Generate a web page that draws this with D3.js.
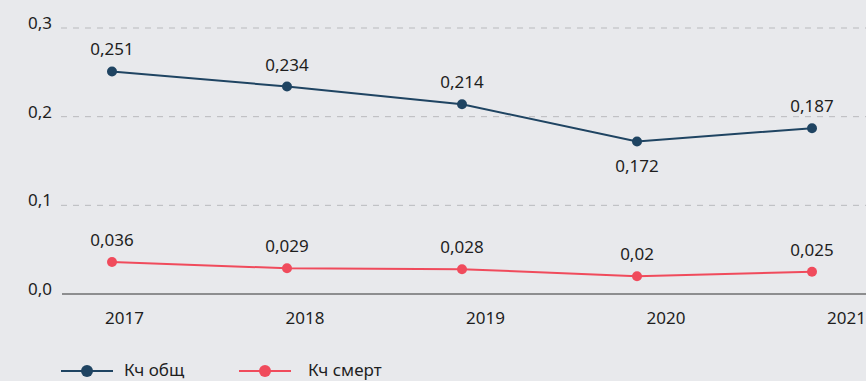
<!DOCTYPE html>
<html>
<head>
<meta charset="utf-8">
<script src="https://cdn.jsdelivr.net/npm/d3@7"></script>
<style>
  html, body { margin: 0; padding: 0; background: #e8e9ec; }
  svg { display: block; font-family: "Noto Sans", "Open Sans", sans-serif; }
</style>
</head>
<body>
<svg id="chart" width="866" height="381"></svg>
<script>
const years = ["2017", "2018", "2019", "2020", "2021"];
const kchTotal = [0.251, 0.234, 0.214, 0.172, 0.187];
const kchDeath = [0.036, 0.029, 0.028, 0.02, 0.025];
const yTicks = [0, 0.1, 0.2, 0.3];
const seriesNames = ["Кч общ", "Кч смерт"];
const seriesColors = ["#1f4462", "#f04b5c"];
// label placement: true = below the point
const totalLabelBelow = [false, false, false, true, false];

const svg = d3.select("#chart");
const fmt = v => String(v).replace(".", ",");
const fmtTick = v => v.toFixed(1).replace(".", ",");
const textColor = "#1e1e1e";

const x = d3.scalePoint().domain(years).range([112, 812]);
const xAxisScale = d3.scalePoint().domain(years).range([124, 846]);
const y = d3.scaleLinear().domain([0, 0.3]).range([294, 28]);

// gridlines
svg.append("g").selectAll("line").data(yTicks.filter(t => t > 0)).join("line")
  .attr("x1", 61).attr("x2", 866)
  .attr("y1", d => y(d)).attr("y2", d => y(d))
  .attr("stroke", "#b9babd").attr("stroke-width", 1)
  .attr("stroke-dasharray", "6,6");

// baseline
svg.append("line").attr("x1", 62).attr("x2", 866)
  .attr("y1", y(0)).attr("y2", y(0))
  .attr("stroke", "#333").attr("stroke-width", 1);

// y tick labels
svg.append("g").selectAll("text").data(yTicks).join("text")
  .attr("x", 52).attr("y", d => y(d) + 1)
  .attr("text-anchor", "end")
  .attr("font-size", 17).attr("fill", textColor)
  .text(fmtTick);

// x axis labels
const xAxis = d3.axisBottom(xAxisScale).tickSize(0).tickPadding(0);
const gx = svg.append("g").attr("transform", `translate(0,${y(0) + 30})`).call(xAxis);
gx.select(".domain").remove();
gx.selectAll("text").attr("font-size", 17).attr("fill", textColor)
  .attr("font-family", "\"Noto Sans\", \"Open Sans\", sans-serif")
  .attr("dy", 0);

const line = d3.line().x((d, i) => x(years[i])).y(d => y(d));

function drawSeries(values, color, below) {
  const g = svg.append("g");
  g.append("path").datum(values)
    .attr("d", line).attr("fill", "none")
    .attr("stroke", color).attr("stroke-width", 2);
  g.selectAll("circle").data(values).join("circle")
    .attr("cx", (d, i) => x(years[i])).attr("cy", d => y(d))
    .attr("r", 5).attr("fill", color);
  g.selectAll("text").data(values).join("text")
    .attr("x", (d, i) => x(years[i]))
    .attr("y", (d, i) => below[i] ? y(d) + 31 : y(d) - 16)
    .attr("text-anchor", "middle")
    .attr("font-size", 17).attr("fill", textColor)
    .text(fmt);
}

drawSeries(kchTotal, seriesColors[0], totalLabelBelow);
drawSeries(kchDeath, seriesColors[1], kchDeath.map(() => false));

// legend
const legendX = [61, 239];
const legend = svg.append("g");
seriesNames.forEach((name, i) => {
  const lg = legend.append("g").attr("transform", `translate(${legendX[i]},371)`);
  lg.append("line").attr("x1", 0).attr("x2", 52).attr("y1", 0).attr("y2", 0)
    .attr("stroke", seriesColors[i]).attr("stroke-width", 2);
  lg.append("circle").attr("cx", 26).attr("cy", 0).attr("r", 6).attr("fill", seriesColors[i]);
  lg.append("text").attr("x", i === 0 ? 63 : 69).attr("y", 5)
    .attr("font-size", 17).attr("fill", textColor).text(name);
});
</script>
</body>
</html>
